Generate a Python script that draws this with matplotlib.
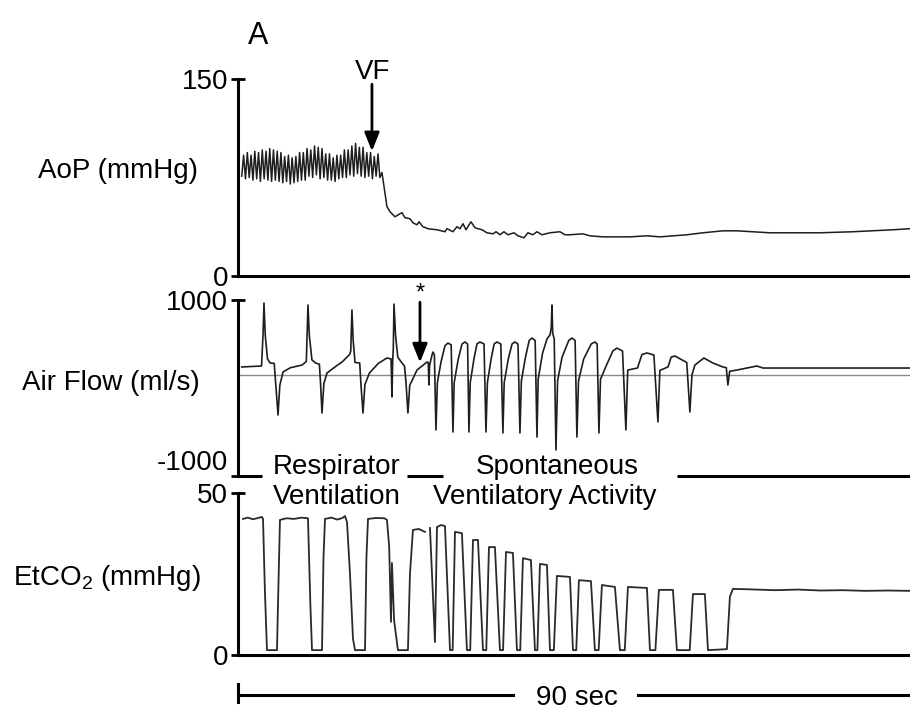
import numpy as np
import matplotlib
matplotlib.use("Agg")
import matplotlib.pyplot as plt
from matplotlib.lines import Line2D

plt.rcParams['font.family'] = ['Liberation Sans', 'DejaVu Sans']
plt.rcParams['mathtext.fontset'] = 'custom'
plt.rcParams['mathtext.rm'] = 'Liberation Sans'
plt.rcParams['mathtext.it'] = 'Liberation Sans:italic'
plt.rcParams['axes.unicode_minus'] = False

# ---------------- data (time in s, values in panel units) ----------------
duration_s = 90

# AoP before VF: alternating diastolic / systolic values, one sample every 0.25 s
aop_pre_dia = [76, 74, 75, 73, 74, 72, 74, 73, 72, 73, 72, 71, 72, 70, 71, 72, 73, 73, 76,
               75, 77, 74, 75, 73, 73, 72, 74, 75, 75, 77, 76, 78, 76, 75, 76, 74, 76, 75]
aop_pre_sys = [92, 94, 92, 95, 94, 96, 95, 97, 96, 95, 94, 91, 92, 90, 91, 94, 94, 97, 96,
               99, 98, 97, 93, 93, 90, 92, 92, 96, 96, 99, 101, 98, 98, 94, 94, 91, 93]
aop_pre_start, aop_pre_end = 0.5, 19.0

# AoP after VF
aop_post_t = [19.28, 19.95, 20.35, 21.02, 21.69, 21.96, 22.36, 23.03, 23.43, 23.97, 24.24,
              24.77, 25.17, 25.44, 26.65, 27.72, 27.98, 28.79, 29.32, 29.73, 30.13, 30.53,
              31.20, 31.74, 32.68, 33.34, 34.15, 34.55, 35.08, 35.62, 36.16, 36.96, 37.49,
              38.30, 38.83, 39.50, 40.04, 40.71, 41.78, 43.12, 43.79, 44.46, 46.20, 47.13,
              48.87, 50.75, 52.49, 54.77, 56.51, 60.12, 62.27, 64.95, 66.82, 71.24, 74.31,
              77.93, 82.35, 87.70, 90.0]
aop_post_v = [78.8, 52.8, 49.0, 45.1, 47.4, 48.2, 44.4, 43.6, 40.5, 39.0, 41.3, 37.5, 36.7,
              36.0, 35.2, 33.7, 36.0, 33.7, 37.5, 36.0, 39.8, 35.2, 41.3, 36.7, 35.2, 32.9,
              32.1, 33.7, 31.4, 33.7, 31.4, 32.9, 30.6, 29.1, 32.9, 31.4, 33.7, 31.4, 32.9,
              33.7, 31.4, 31.4, 32.1, 30.6, 29.8, 29.8, 29.8, 30.6, 29.8, 31.4, 32.9, 34.4,
              34.4, 32.9, 32.9, 32.9, 33.7, 35.2, 36.0]

# Air flow (ml/s): (time, value) samples
airflow_samples = [
    (0.5, 239), (3.15, 250), (3.35, 600), (3.48, 966), (3.65, 600), (3.95, 330), (4.3, 284),
    (4.85, 280), (5.05, 50), (5.36, -307), (5.6, 30), (6.03, 182), (7.0, 230), (8.57, 261),
    (9.15, 300), (9.37, 943), (9.55, 600), (9.9, 320), (10.4, 284), (10.9, 270), (11.05, 60),
    (11.25, -284), (11.5, 50), (11.92, 170), (13.0, 240), (14.0, 300), (14.6, 352),
    (14.95, 380), (15.1, 420), (15.26, 886), (15.42, 550), (15.67, 290), (16.3, 284),
    (16.45, 60), (16.74, -284), (17.0, 40), (17.6, 170), (18.8, 280), (19.95, 341),
    (20.5, 330), (20.62, -102), (20.72, 320), (20.8, 450), (20.89, 954), (21.1, 600),
    (21.4, 350), (21.96, 284), (22.3, 250), (22.5, 60), (22.76, -284), (23.0, 30),
    (23.97, 204), (25.31, 295), (25.48, 290), (25.57, 34), (25.66, 260), (26.0, 380),
    (26.11, 409), (26.3, 380), (26.51, -477),
    (26.7, 60), (27.2, 300), (27.72, 480), (28.12, 511), (28.55, 490), (28.79, -500),
    (28.95, 60), (29.5, 330), (30.0, 500), (30.40, 523), (30.75, 500), (30.93, -500),
    (31.1, 60), (31.6, 330), (32.0, 500), (32.40, 523), (32.95, 500), (33.21, -500),
    (33.4, 60), (33.9, 330), (34.3, 500), (34.68, 523), (35.2, 500), (35.48, -511),
    (35.65, 60), (36.2, 330), (36.7, 500), (37.09, 523), (37.5, 500), (37.76, -511),
    (37.95, 80), (38.5, 350), (39.0, 540), (39.37, 568), (39.8, 540), (40.04, -557),
    (40.2, 100), (40.8, 400), (41.4, 560), (41.78, 602), (41.95, 680), (42.05, 943),
    (42.15, 620), (42.35, 560), (42.58, -704),
    (42.8, 80), (43.4, 350), (44.3, 540), (44.72, 568), (45.15, 540), (45.39, -557),
    (45.6, 80), (46.3, 330), (47.3, 500), (47.80, 523), (48.1, 500), (48.34, -511),
    (48.55, 100), (49.3, 250), (50.2, 420), (50.75, 454), (51.5, 420), (51.95, -477),
    (52.2, 204), (53.5, 227), (54.1, 380), (54.77, 398), (55.7, 375), (56.24, -386),
    (56.5, 200), (57.6, 240), (58.0, 350), (58.51, 364), (60.1, 290), (60.52, -273),
    (60.8, 150), (61.19, 261), (62.40, 341), (63.60, 284), (64.94, 239), (65.4, 230),
    (65.61, 34), (65.85, 190), (66.82, 204), (69.49, 250), (70.30, 227), (90.0, 227),
]
airflow_reference = 150

# EtCO2 (mmHg): (time, value) samples; None marks a gap in the recording
etco2_samples = [
    (0.67, 42.0), (1.3, 42.4), (2.0, 41.9), (2.7, 42.3), (3.2, 42.6), (3.35, 42.0),
    (3.6, 20.0), (3.88, 1.5), (5.22, 1.5), (5.45, 25.0), (5.62, 41.7), (6.5, 42.2),
    (7.5, 42.0), (8.5, 42.4), (9.37, 42.2), (9.7, 15.0), (9.91, 1.5), (11.25, 1.5),
    (11.45, 30.0), (11.65, 42.0), (12.5, 42.4), (13.3, 41.8), (14.0, 42.3), (14.33, 42.9),
    (14.6, 41.0), (15.0, 25.0), (15.4, 5.0), (15.67, 1.5), (17.01, 1.5), (17.2, 30.0),
    (17.41, 42.0), (18.5, 42.3), (19.6, 42.2), (19.95, 41.7), (20.25, 33.3), (20.49, 10.2),
    (20.62, 28.4), (20.9, 10.8), (21.42, 1.5), (22.76, 1.5), (23.03, 25.0), (23.43, 38.6),
    (24.2, 38.9), (25.04, 38.0), None,
    (25.71, 39.2), (26.38, 4.0), (26.65, 39.5), (27.2, 40.1), (27.72, 39.8), (28.39, 1.5),
    (28.75, 1.5), (29.06, 38.0), (29.99, 37.6), (30.66, 1.5),
    (31.1, 1.5), (31.47, 35.5), (32.14, 35.5), (32.81, 1.5),
    (33.25, 1.5), (33.61, 33.3), (34.41, 33.3), (35.08, 1.5),
    (35.5, 1.5), (35.89, 31.8), (36.82, 31.5), (37.36, 1.5),
    (37.8, 1.5), (38.16, 29.9), (39.23, 29.3), (39.77, 1.5),
    (40.1, 1.5), (40.44, 28.1), (41.38, 27.8), (41.78, 1.5),
    (42.3, 1.5), (42.71, 24.4), (44.46, 24.1), (44.86, 1.5),
    (45.3, 1.5), (45.66, 23.1), (47.27, 22.8), (47.80, 1.5),
    (48.3, 1.5), (48.74, 21.6), (50.48, 21.0), (51.15, 1.5),
    (51.8, 1.5), (52.22, 21.0), (54.77, 20.7), (55.17, 1.5),
    (55.9, 1.5), (56.37, 20.1), (58.25, 20.1), (58.78, 1.5),
    (60.5, 1.5), (60.93, 18.8), (62.53, 18.8), (62.94, 1.5), (65.48, 1.8),
    (65.88, 18.0), (66.28, 20.4), (68.0, 20.3), (72.0, 20.0), (75.0, 20.2), (78.0, 19.9),
    (81.0, 20.0), (84.0, 19.8), (87.0, 19.9), (90.0, 19.8),
]

panel_labels = ["AoP (mmHg)", "Air Flow (ml/s)", r"EtCO$_2$ (mmHg)"]
panel_ylims = [(0, 150), (-1000, 1000), (0, 50)]
panel_ticklabels = [["0", "150"], ["-1000", "1000"], ["0", "50"]]

vf_time = 17.94
star_time = 24.37

# ---------------- build series ----------------
aop_pre_t = np.linspace(aop_pre_start, aop_pre_end, len(aop_pre_dia) + len(aop_pre_sys))
aop_pre_v = []
for i in range(len(aop_pre_dia)):
    aop_pre_v.append(aop_pre_dia[i])
    if i < len(aop_pre_sys):
        aop_pre_v.append(aop_pre_sys[i])
aop_t = np.concatenate([aop_pre_t, aop_post_t])
aop_v = np.concatenate([aop_pre_v, aop_post_v])

flow_t = np.array([p[0] for p in airflow_samples])
flow_v = np.array([p[1] for p in airflow_samples])

etco2_t = np.array([np.nan if p is None else p[0] for p in etco2_samples])
etco2_v = np.array([np.nan if p is None else p[1] for p in etco2_samples])

# ---------------- figure ----------------
W, H = 910, 711
fig = plt.figure(figsize=(W / 100, H / 100), dpi=100)
fig.patch.set_facecolor("white")


def box(x0, ytop, x1, ybot):
    return [x0 / W, 1 - ybot / H, (x1 - x0) / W, (ybot - ytop) / H]


ax1 = fig.add_axes(box(238, 79, 910, 276))
ax2 = fig.add_axes(box(238, 300, 910, 476))
ax3 = fig.add_axes(box(238, 493, 910, 655))
axes = [ax1, ax2, ax3]

trace_color = "#1e1e1e"
for ax, ylim, tl in zip(axes, panel_ylims, panel_ticklabels):
    ax.set_xlim(0, duration_s)
    ax.set_ylim(*ylim)
    ax.set_facecolor("none")
    for s in ["top", "right"]:
        ax.spines[s].set_visible(False)
    for s in ["left", "bottom"]:
        ax.spines[s].set_linewidth(2.2)
        ax.spines[s].set_color("black")
    ax.set_xticks([])
    ax.set_yticks(list(ylim))
    ax.set_yticklabels(tl)
    ax.tick_params(axis="y", direction="inout", length=10, width=2.0, labelsize=20, pad=2)
ax2.spines["bottom"].set_visible(False)
# the lower air-flow label sits just above its tick, clear of the EtCO2 "50"
ax2.get_yticklabels()[0].set_verticalalignment("bottom")

ax1.plot(aop_t, aop_v, color=trace_color, lw=1.1, clip_on=False)
ax2.axhline(airflow_reference, color="#8a8a8a", lw=1.0, zorder=1)
ax2.plot(flow_t, flow_v, color=trace_color, lw=1.2, clip_on=False, zorder=2)
ax3.plot(etco2_t, etco2_v, color="#2a2a2a", lw=1.3, clip_on=False)

# broken axis line under the air-flow panel
for seg in [(0, 3.2), (22.63, 27.45), (58.78, duration_s)]:
    ax2.plot(seg, [-1000, -1000], color="black", lw=2.2, clip_on=False,
             solid_capstyle="butt")

# arrows
ax1.annotate("", xy=(vf_time, 95), xytext=(vf_time, 146), annotation_clip=False,
             arrowprops=dict(arrowstyle="-|>,head_length=0.7,head_width=0.28",
                             color="black", lw=2.0, mutation_scale=16,
                             shrinkA=0, shrinkB=0))
ax2.annotate("", xy=(star_time, 290), xytext=(star_time, 975), annotation_clip=False,
             arrowprops=dict(arrowstyle="-|>,head_length=0.7,head_width=0.28",
                             color="black", lw=2.0, mutation_scale=16,
                             shrinkA=0, shrinkB=0))

# texts
fs = 20
fig.text(258 / W, 1 - 36 / H, "A", fontsize=22, ha="center", va="center")
fig.text(373 / W, 1 - 72 / H, "VF", fontsize=fs, ha="center", va="center")
fig.text(420 / W, 1 - 294 / H, "*", fontsize=17, ha="center", va="center")
fig.text(118 / W, 1 - 171 / H, panel_labels[0], fontsize=fs, ha="center", va="center")
fig.text(111 / W, 1 - 383 / H, panel_labels[1], fontsize=fs, ha="center", va="center")
fig.text(107 / W, 1 - 578 / H, panel_labels[2], fontsize=fs, ha="center", va="center")
fig.text(337 / W, 1 - 467 / H, "Respirator", fontsize=fs, ha="center", va="center")
fig.text(337 / W, 1 - 497 / H, "Ventilation", fontsize=fs, ha="center", va="center")
fig.text(557 / W, 1 - 467 / H, "Spontaneous", fontsize=fs, ha="center", va="center")
fig.text(545 / W, 1 - 497 / H, "Ventilatory Activity", fontsize=fs, ha="center", va="center")
fig.text(577 / W, 1 - 698 / H, "90 sec", fontsize=fs, ha="center", va="center")

# 90 s scale bar
yb = 1 - 695 / H
fig.add_artist(Line2D([238 / W, 513 / W], [yb, yb], color="black", lw=2.2,
                      transform=fig.transFigure))
fig.add_artist(Line2D([638 / W, 910 / W], [yb, yb], color="black", lw=2.2,
                      transform=fig.transFigure))
fig.add_artist(Line2D([238 / W, 238 / W], [1 - 684 / H, 1 - 702 / H], color="black",
                      lw=2.2, transform=fig.transFigure))

fig.savefig("out.png", dpi=100, facecolor="white")
